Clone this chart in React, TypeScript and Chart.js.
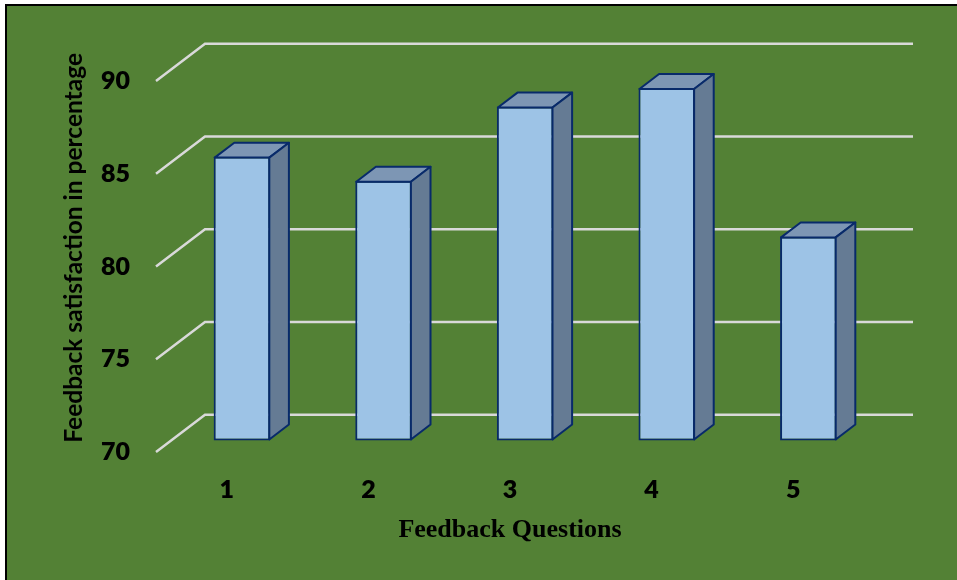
import React, { useEffect, useRef } from "react";
import { Chart, registerables } from "chart.js";

Chart.register(...registerables);

// ---- data ----
const categories = ["1", "2", "3", "4", "5"];
const satisfaction = [85.3, 84, 88, 89, 81];
const yTickValues = [70, 75, 80, 85, 90];
const xTitle = "Feedback Questions";
const yTitle = "Feedback satisfaction in percentage";

// ---- style ----
const GREEN = "#538135";
const GRID = "#D9D9D9";
const FRONT = "#9DC3E6";
const TOP = "#7D96B4";
const SIDE = "#657B94";
const EDGE = "#082A6A";
const DEPTH_X = 49;
const DEPTH_Y = -37.3;
const BAR_Z0 = 0.31;
const BAR_Z = 0.4;

const threeD = {
  id: "threeD",
  beforeDatasetsDraw(chart: any) {
    const { ctx, chartArea: a } = chart;
    const y = chart.scales.y;
    ctx.save();
    ctx.strokeStyle = GRID;
    ctx.lineWidth = 2.5;
    y.ticks.forEach((t: any) => {
      const py = y.getPixelForValue(t.value);
      ctx.beginPath();
      ctx.moveTo(a.left, py);
      ctx.lineTo(a.left + DEPTH_X, py + DEPTH_Y);
      ctx.lineTo(a.right + DEPTH_X, py + DEPTH_Y);
      ctx.stroke();
    });
    ctx.restore();
  },
  beforeDatasetDraw(chart: any) {
    chart.ctx.save();
    chart.ctx.translate(BAR_Z0 * DEPTH_X, BAR_Z0 * DEPTH_Y);
  },
  afterDatasetDraw(chart: any, args: any) {
    const ctx = chart.ctx;
    const dx = BAR_Z * DEPTH_X;
    const dy = BAR_Z * DEPTH_Y;
    args.meta.data.forEach((bar: any) => {
      const { x, y, width, base } = bar.getProps(["x", "y", "width", "base"], true);
      const l = x - width / 2 + 1;
      const r = x + width / 2 - 1;
      const t = y + 1;
      const b = base - 1;
      ctx.lineWidth = 2;
      ctx.strokeStyle = EDGE;
      ctx.lineJoin = "round";
      ctx.beginPath();
      ctx.moveTo(l, t);
      ctx.lineTo(l + dx, t + dy);
      ctx.lineTo(r + dx, t + dy);
      ctx.lineTo(r, t);
      ctx.closePath();
      ctx.fillStyle = TOP;
      ctx.fill();
      ctx.stroke();
      ctx.beginPath();
      ctx.moveTo(r, t);
      ctx.lineTo(r + dx, t + dy);
      ctx.lineTo(r + dx, b + dy);
      ctx.lineTo(r, b);
      ctx.closePath();
      ctx.fillStyle = SIDE;
      ctx.fill();
      ctx.stroke();
    });
    ctx.restore();
  },
  afterDraw(chart: any) {
    const { ctx, chartArea: a } = chart;
    ctx.save();
    ctx.translate(a.left - 81.5, (a.bottom + a.top + DEPTH_Y) / 2);
    ctx.rotate(-Math.PI / 2);
    ctx.font = "bold 24.5px Lato";
    ctx.fillStyle = "#000";
    ctx.textAlign = "center";
    ctx.textBaseline = "middle";
    ctx.fillText(yTitle, 0, 0);
    ctx.restore();
  },
};

export default function App() {
  const ref = useRef<HTMLCanvasElement>(null);
  useEffect(() => {
    if (!ref.current) return;
    const chart = new Chart(ref.current, {
      type: "bar",
      data: {
        labels: categories,
        datasets: [
          {
            data: satisfaction,
            base: yTickValues[0],
            backgroundColor: FRONT,
            borderColor: EDGE,
            borderWidth: 2,
            borderSkipped: false,
            barPercentage: 0.4,
            categoryPercentage: 1,
            clip: false,
          } as any,
        ],
      },
      options: {
        animation: false,
        responsive: false,
        layout: { padding: { top: 75, right: 93, left: 0, bottom: 0 } },
        plugins: { legend: { display: false }, tooltip: { enabled: false } },
        scales: {
          x: {
            grid: { display: false, drawTicks: false },
            border: { display: false },
            ticks: {
              color: "#000",
              font: { family: "Lato", weight: 800, size: 25 },
              padding: 23,
            },
            title: {
              display: true,
              text: xTitle,
              color: "#000",
              font: { family: "'Liberation Serif', serif", weight: "bold", size: 26 },
              padding: { top: 0, bottom: 34 },
            },
            afterFit: (s: any) => {
              s.height = 128;
            },
          },
          y: {
            min: yTickValues[0],
            max: yTickValues[yTickValues.length - 1],
            grid: { display: false, drawTicks: false },
            border: { display: false },
            ticks: {
              stepSize: yTickValues[1] - yTickValues[0],
              color: "#000",
              font: { family: "Lato", weight: 800, size: 25 },
              padding: 26,
            },
            afterFit: (s: any) => {
              s.width = 149;
            },
          },
        },
      } as any,
      plugins: [threeD],
    });
    return () => chart.destroy();
  }, []);

  return (
    <div
      style={{
        position: "fixed",
        left: 0,
        top: 0,
        width: 957,
        height: 580,
        background: "#fff",
        overflow: "hidden",
      }}
    >
      <div
        style={{
          position: "absolute",
          left: 5,
          top: 4,
          width: 960,
          height: 580,
          boxSizing: "border-box",
          borderLeft: "2px solid #000",
          borderTop: "2px solid #000",
          background: GREEN,
        }}
      >
        <canvas ref={ref} width={950} height={574} style={{ display: "block", width: 950, height: 574 }} />
      </div>
    </div>
  );
}
